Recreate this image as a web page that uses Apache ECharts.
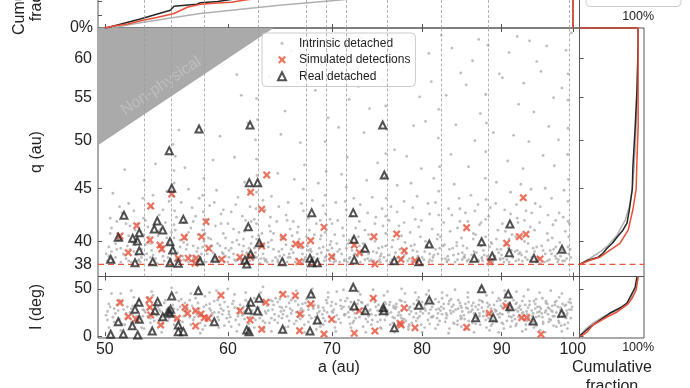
<!DOCTYPE html>
<html><head><meta charset="utf-8">
<script src="https://cdn.jsdelivr.net/npm/echarts@6/dist/echarts.min.js"></script>
<style>html,body{margin:0;padding:0;background:#fff;overflow:hidden;width:690px;height:388px}#c{position:absolute;left:0;top:-50px;width:690px;height:438px}</style>
</head><body><div id="c"></div><script>
// ---------- data (a in au, q in au, I in deg) ----------
const resonances = [52.95, 55.4, 57.8, 62.6, 67.1, 69.3, 71.5, 75.8, 82.0, 87.9, 99.3];
const aTicks = [50, 60, 70, 80, 90, 100];
const qTicks = [38, 40, 45, 50, 55, 60];
const iTicks = [0, 50];
const qCut = 38;

const realAQ = [[50.44,38.44],[51.01,40.36],[51.44,42.38],[52.11,40.27],[52.29,38.15],[52.47,40.03],[52.62,40.78],[52.62,39.18],[53.68,38.24],[53.80,41.11],[54.04,41.85],[54.48,41.02],[55.01,48.91],[55.07,39.97],[55.21,45.0],[55.29,39.24],[55.07,38.15],[55.75,38.1],[56.17,42.0],[57.57,38.3],[58.86,38.53],[57.49,51.32],[61.93,45.56],[62.70,45.56],[61.84,41.32],[62.86,39.88],[62.06,38.89],[61.54,38.38],[61.70,38.05],[65.03,38.24],[67.93,42.63],[67.76,38.53],[67.93,38.15],[68.50,38.15],[72.24,42.63],[72.32,40.18],[72.35,38.38],[73.51,39.39],[75.64,46.34],[76.77,38.32],[80.85,39.77],[79.62,38.24],[62.0,51.78],[75.46,51.78],[86.42,38.53],[87.37,39.97],[88.75,38.72],[91.02,39.01],[91.11,41.57],[94.41,38.53],[98.41,39.30]];
const simAQ = [[51.14,40.48],[51.77,39.01],[52.42,41.41],[53.52,43.26],[53.46,40.12],[54.26,39.67],[54.40,39.33],[55.21,44.43],[55.75,38.53],[56.25,40.36],[56.58,38.53],[57.23,38.53],[57.15,38.1],[57.71,40.42],[58.09,41.78],[58.32,39.39],[59.45,38.44],[63.55,46.34],[62.06,44.6],[63.08,42.95],[63.08,39.59],[61.08,38.61],[62.0,38.66],[65.13,40.36],[66.34,39.77],[66.83,39.67],[67.83,40.06],[69.18,41.27],[66.69,38.24],[69.97,38.66],[72.35,39.67],[72.89,39.01],[74.49,40.42],[74.6,38.04],[77.04,40.66],[77.91,39.18],[77.53,38.44],[79.16,38.32],[85.45,41.23],[88.45,38.24],[90.67,39.83],[92.39,40.42],[93.3,40.63],[92.93,44.07],[95.26,38.47]];
const realAI = [[50.44,1.9],[51.39,2.2],[52.5,1.2],[51.01,15.2],[52.08,11.0],[52.29,28.3],[52.6,35.7],[52.62,17.8],[53.64,5.4],[53.86,26.8],[54.07,36.4],[54.48,20.5],[54.93,25.8],[55.12,28.3],[55.07,24.1],[55.21,42.4],[55.75,11.7],[55.75,4.7],[56.17,4.7],[57.43,48.0],[58.8,15.2],[61.70,6.4],[61.91,4.7],[62.06,35.7],[61.84,27.6],[62.70,26.5],[62.83,40.0],[65.07,7.2],[67.76,5.4],[67.86,44.5],[68.50,17.0],[72.24,51.6],[72.35,31.8],[73.54,26.8],[75.53,30.0],[75.58,26.8],[76.77,8.9],[79.62,32.6],[80.85,38.2],[86.6,19.5],[87.37,50.1],[88.88,19.5],[90.88,44.5],[91.11,31.1],[94.31,16.0],[98.37,24.1]];
const simAI = [[51.14,35.3],[51.77,20.5],[52.36,18.1],[53.41,38.2],[53.46,30.4],[53.52,22.3],[54.31,11.7],[55.67,18.8],[56.3,30.4],[56.53,24.1],[57.2,26.8],[57.2,10.7],[57.66,23.4],[57.94,19.5],[58.28,18.8],[59.39,43.1],[61.08,26.8],[62.0,17.0],[63.08,7.2],[63.48,35.7],[65.10,44.2],[66.3,42.7],[66.76,23.0],[67.83,33.9],[66.72,5.7],[69.97,17.8],[69.18,2.2],[72.35,3.0],[72.89,26.8],[74.42,40.0],[74.6,5.4],[77.91,29.7],[77.42,13.5],[77.55,11.7],[79.16,8.9],[85.45,9.3],[88.36,24.1],[90.58,31.8],[92.72,19.5],[93.41,19.5],[95.40,1.9]];

const intrinsicAQ = [[50.2,38.3],[50.5,39.1],[50.8,38.6],[51.1,40.2],[51.4,38.9],[51.7,39.6],[52.0,38.2],[52.3,41.0],[50.4,40.7],[50.9,41.8],[51.3,42.6],[51.8,43.5],[52.1,39.9],[50.6,44.5],[51.5,46.9],[52.4,38.8],[50.3,39.5],[51.9,41.4],
[52.6,38.4],[52.8,39.3],[52.9,40.6],[52.95,42.1],[52.9,44.0],[53.0,45.8],[53.2,38.9],[53.5,39.8],[53.8,38.3],[54.1,40.9],[54.4,39.2],[54.7,41.7],[54.9,38.6],[53.6,43.1],[54.2,42.4],[53.3,41.3],[54.8,44.7],[53.9,47.5],
[55.1,38.5],[55.3,39.4],[55.4,40.3],[55.4,41.5],[55.45,42.8],[55.35,44.2],[55.4,45.5],[55.4,46.8],[55.5,48.3],[55.3,49.6],[55.6,38.9],[55.9,40.1],[56.2,38.4],[56.5,39.7],[56.8,41.2],[57.1,38.7],[57.4,40.6],[56.0,43.6],[56.6,44.9],[57.2,42.3],[55.8,51.2],[56.3,47.1],
[57.6,38.3],[57.8,39.5],[57.8,41.0],[57.85,42.7],[57.8,44.3],[57.9,46.0],[58.2,38.9],[58.5,40.2],[58.8,38.5],[59.1,39.8],[59.4,41.6],[59.7,38.2],[58.4,43.3],[59.0,44.8],[59.6,42.9],[58.7,47.9],[59.3,50.5],[59.8,39.4],
[60.1,38.6],[60.4,39.9],[60.7,38.3],[61.0,40.8],[61.3,39.1],[61.6,41.9],[61.9,38.8],[62.2,40.4],[60.3,42.7],[60.9,44.1],[61.5,45.6],[62.0,43.2],[60.6,48.2],[61.8,52.0],[62.3,38.4],[61.2,55.3],[60.8,57.9],
[62.5,39.0],[62.6,40.2],[62.6,41.6],[62.55,43.0],[62.6,44.6],[62.65,46.3],[62.6,48.0],[62.5,50.1],[62.7,52.4],[62.6,54.9],[63.0,38.5],[63.3,39.6],[63.6,38.2],[63.9,40.9],[64.2,39.3],[64.5,41.8],[64.8,38.7],[63.4,42.9],[64.0,44.2],[64.6,46.5],[63.8,57.6],[64.3,60.2],[64.9,50.7],
[65.1,38.4],[65.4,39.7],[65.7,38.9],[66.0,40.5],[66.3,38.2],[66.6,41.3],[66.9,39.4],[67.1,42.8],[67.1,44.9],[67.2,47.4],[65.6,43.6],[66.2,45.9],[66.8,49.8],[65.3,53.4],[66.5,56.8],[65.9,61.0],[67.3,38.6],[65.8,41.1],
[67.6,39.2],[67.9,38.4],[68.2,40.6],[68.5,38.9],[68.8,41.9],[69.1,39.5],[69.3,40.8],[69.35,42.5],[69.3,44.3],[69.4,46.7],[69.3,49.9],[69.8,38.3],[68.0,43.8],[68.6,45.5],[69.6,52.6],[68.3,55.9],[69.0,59.4],[67.8,62.1],[69.9,40.0],
[70.2,38.7],[70.5,39.8],[70.8,38.2],[71.1,41.2],[71.5,39.4],[71.5,42.9],[71.5,45.1],[71.6,48.2],[71.9,38.6],[72.2,40.3],[70.4,43.6],[71.0,46.4],[72.3,44.0],[70.7,51.5],[71.8,54.8],[72.0,58.6],[70.3,62.5],
[72.6,38.3],[72.9,39.6],[73.2,38.9],[73.5,41.0],[73.8,38.5],[74.1,40.2],[74.4,39.1],[74.7,42.2],[73.0,43.4],[73.7,45.8],[74.3,44.1],[74.9,47.6],[73.4,50.9],[74.0,53.7],[72.8,56.4],[74.6,59.8],[73.1,62.8],
[75.1,38.4],[75.4,39.5],[75.8,40.7],[75.8,42.3],[75.85,44.0],[75.7,46.1],[75.8,48.6],[75.9,51.3],[75.8,54.0],[76.2,38.8],[76.6,40.1],[77.0,38.2],[77.3,41.4],[76.4,43.2],[77.1,45.3],[76.8,49.0],[75.5,57.2],[76.9,60.9],[77.4,39.3],
[77.7,38.6],[78.0,39.9],[78.3,38.3],[78.6,40.8],[78.9,39.2],[79.2,42.0],[79.5,38.7],[79.8,40.4],[77.9,43.7],[78.7,45.5],[79.4,44.2],[78.2,48.3],[79.0,51.7],[79.7,55.1],[77.8,58.9],[78.8,62.3],[79.9,47.0],
[80.2,38.4],[80.5,39.6],[80.9,38.9],[81.2,41.1],[81.6,39.3],[81.9,40.6],[82.0,42.4],[82.0,44.7],[82.1,47.2],[81.95,50.3],[82.0,53.6],[82.4,38.5],[80.7,43.5],[81.4,46.0],[80.4,52.2],[81.1,57.0],[80.8,60.7],[82.3,63.2],
[82.7,39.7],[83.0,38.3],[83.4,40.9],[83.8,38.8],[84.2,39.9],[84.6,41.8],[84.9,38.4],[83.2,43.0],[83.9,45.4],[84.5,44.0],[83.5,48.5],[84.1,51.8],[82.9,55.3],[84.7,58.1],[83.6,61.4],[84.8,40.3],
[85.1,38.6],[85.5,39.4],[85.9,38.2],[86.3,40.7],[86.7,39.0],[87.1,41.5],[87.4,38.5],[85.3,42.6],[86.0,44.3],[86.9,43.4],[85.7,47.2],[86.5,50.0],[87.2,53.1],[85.4,56.6],[86.2,59.7],[87.0,62.6],
[87.6,39.2],[87.9,40.4],[87.9,42.0],[87.95,43.9],[87.85,46.0],[87.9,48.8],[88.0,52.0],[87.9,55.4],[88.3,38.3],[88.7,39.8],[89.1,38.7],[89.5,41.0],[89.9,39.3],[88.5,43.1],[89.3,45.6],[88.9,50.9],[89.7,58.0],[88.2,61.8],
[90.2,38.5],[90.6,39.7],[91.0,38.2],[91.4,40.6],[91.8,39.1],[92.2,41.7],[90.4,42.9],[91.2,44.6],[92.0,43.4],[90.8,47.8],[91.6,50.6],[92.3,54.2],[90.1,57.5],[91.0,60.8],[92.1,63.0],[90.5,40.9],
[92.7,38.8],[93.1,40.0],[93.5,38.4],[93.9,41.3],[94.3,39.4],[94.7,38.2],[93.3,42.8],[94.0,44.9],[94.6,43.5],[92.9,47.0],[93.7,49.9],[94.4,53.3],[93.0,56.8],[94.8,59.6],[93.8,62.4],[92.6,45.4],
[95.1,38.5],[95.5,39.6],[95.9,38.2],[96.3,40.7],[96.7,39.2],[97.1,41.5],[97.4,38.7],[95.3,43.2],[96.0,45.0],[96.9,44.0],[95.7,48.4],[96.5,51.6],[97.2,55.0],[95.4,58.3],[96.2,61.7],[97.3,47.3],
[97.7,38.9],[98.1,39.9],[98.5,38.3],[98.9,40.9],[99.3,39.5],[99.3,41.8],[99.3,43.7],[99.35,45.9],[99.25,48.5],[99.3,51.4],[99.3,54.7],[99.3,58.0],[99.7,38.6],[98.0,42.6],[98.7,44.8],[97.9,50.1],[98.4,56.2],[99.0,61.1],[99.8,63.5],
[50.1,38.9],[50.7,38.2],[51.2,39.4],[51.6,38.5],[52.2,39.1],[52.7,38.2],[53.1,39.7],[53.7,38.8],[54.0,38.1],[54.5,39.5],[55.0,38.2],[55.7,39.0],[56.1,38.7],[56.4,39.3],[56.9,38.3],[57.3,39.1],[57.7,38.9],[58.1,38.2],[58.6,39.6],[59.0,38.4],[59.5,39.0],[60.0,38.2],[60.5,38.9],[61.1,38.5],[61.4,39.6],[62.0,38.3],[62.4,39.4],[62.9,38.1],[63.2,38.9],[63.7,39.5],[64.1,38.3],[64.7,39.1],[65.2,38.8],[65.9,39.3],[66.4,38.5],[67.0,38.1],[67.5,39.6],[68.1,38.6],[68.7,39.4],[69.2,38.3],[69.6,39.2],[70.1,38.5],[70.6,39.1],[71.3,38.4],[71.7,39.8],[72.4,38.9],[73.0,38.2],[73.6,39.5],[74.2,38.4],[74.8,39.0],[75.3,38.9],[75.9,38.3],[76.5,39.5],[77.2,38.6],[77.9,39.2],[78.5,38.5],[79.1,39.7],[79.7,38.3],[80.3,39.1],[80.8,38.2],[81.4,38.8],[82.1,39.4],[82.8,38.5],[83.3,39.3],[84.0,38.2],[84.4,38.9],[85.0,39.6],[85.7,38.4],[86.4,39.1],[87.0,38.3],[87.7,38.8],[88.4,39.5],[89.0,38.4],[89.6,39.0],[90.3,38.2],[90.9,39.4],[91.5,38.6],[92.1,39.2],[92.8,38.3],[93.4,39.1],[94.1,38.6],[94.8,39.5],[95.3,38.1],[96.0,38.9],[96.6,38.4],[97.2,39.3],[97.8,38.2],[98.4,39.2],[99.1,38.5],[99.6,39.3],
[50.5,41.2],[51.0,40.1],[51.8,40.5],[52.5,41.6],[53.4,40.4],[54.3,41.1],[55.2,40.8],[56.4,40.5],[57.0,41.8],[58.0,40.7],[58.9,41.4],[59.8,40.3],[60.5,41.1],[61.4,40.2],[62.1,41.8],[63.1,40.7],[63.8,41.4],[64.9,40.4],[65.5,41.9],[66.7,40.2],[67.7,41.0],[68.9,40.5],[70.0,41.6],[71.2,40.5],[72.5,41.2],[73.9,40.6],[75.5,41.4],[77.6,40.5],[79.6,41.3],[81.8,40.2],[84.3,41.2],[86.6,40.6],[89.3,40.2],[91.9,40.4],[94.5,41.0],[97.0,40.3],
[50.3,38.7],[50.8,39.8],[51.2,38.2],[51.9,39.3],[52.4,40.2],[52.8,38.6],[53.3,39.9],[53.9,38.5],[54.2,39.6],[54.8,40.3],[55.2,39.1],[55.5,38.3],[55.9,39.5],[56.3,40.2],[56.7,38.8],[57.0,39.6],[57.5,38.4],[57.9,40.0],[58.3,39.3],[58.9,38.6],[59.3,39.6],[59.6,38.9],[60.3,39.4],[60.8,40.1],[61.2,38.3],[61.7,39.0],[62.1,39.8],[62.6,38.6],[63.0,39.8],[63.5,38.4],[64.0,40.1],[64.4,38.6],[65.0,39.3],[65.5,38.2],[66.1,39.0],[66.6,39.8],[67.2,38.4],[67.8,39.3],[68.3,38.2],[68.9,39.0],[69.4,38.7],[70.0,39.4],[70.4,38.3],[71.0,38.9],[71.6,38.2],[72.1,39.2],[72.7,38.7],[73.3,39.8],[73.9,38.9],[74.5,38.3],[75.0,39.4],[75.6,38.6],[76.3,38.2],[76.9,39.0],[77.5,38.4],[78.1,38.9],[78.8,38.3],[79.4,39.1],[80.0,38.6],[80.6,39.5],[81.2,38.3],[81.9,38.9],[82.5,39.6],[83.1,38.7],[83.7,39.4],[84.3,38.4],[84.9,39.0],[85.5,38.3],[86.1,38.8],[86.8,38.4],[87.3,39.6],[88.1,38.7],[88.8,38.2],[89.4,39.3],[90.0,38.8],[90.7,38.4],[91.3,39.2],[91.9,38.3],[92.5,39.0],[93.2,38.6],[93.9,38.3],[94.5,39.1],[95.0,38.5],[95.7,39.2],[96.3,38.3],[96.9,38.9],[97.5,39.5],[98.2,38.7],[98.8,38.3],[99.4,38.9],
[50.6,38.4],[51.5,38.8],[52.5,38.3],[53.5,38.6],[54.6,38.3],[55.6,38.5],[56.6,38.2],[57.6,38.6],[58.7,38.3],[59.8,38.7],[60.9,38.4],[62.2,38.6],[63.4,38.3],[64.6,38.4],[65.8,38.6],[67.1,38.3],[68.6,38.5],[70.2,38.2],[71.8,38.5],[73.5,38.4],[75.2,38.2],[77.0,38.5],[78.9,38.6],[80.9,38.4],[83.0,38.2],[85.2,38.6],[87.5,38.3],[89.8,38.5],[92.3,38.4],[94.9,38.3],[97.6,38.5],
[50.4,42.1],[51.1,43.2],[51.6,41.6],[52.2,42.8],[53.1,41.9],[53.7,44.3],[54.5,42.9],[55.0,43.7],[55.6,42.2],[56.2,41.7],[56.9,43.1],[57.5,44.0],[58.1,42.0],[58.8,43.6],[59.4,42.5],[60.0,41.6],[60.7,43.4],[61.3,42.3],[61.9,44.6],[62.4,42.0],[63.2,43.8],[63.9,42.2],[64.7,43.2],[65.4,42.4],[66.1,41.8],[66.9,43.5],[67.6,42.1],[68.4,41.6],[69.1,43.3],[69.8,42.0],[70.6,41.9],[71.4,43.7],[72.1,42.3],[72.9,41.8],[73.8,42.6],[74.6,41.6],[75.4,43.0],[76.2,41.9],[77.1,42.7],[77.9,41.7],[78.9,43.1],[79.9,41.9],[80.9,42.5],[81.6,43.6],[82.6,41.7],[83.6,42.4],[84.6,43.0],[85.6,41.8],[86.5,42.8],[87.3,41.7],[88.3,42.3],[89.2,43.5],[90.1,41.6],[91.2,42.5],[92.1,42.1],[93.1,41.9],[94.1,42.6],[95.2,41.7],[96.4,42.4],[97.5,41.9],[98.6,42.2],[99.5,41.6],
[50.4,38.5],[50.9,39.3],[51.3,40.1],[51.8,38.3],[52.3,39.7],[52.7,40.9],[53.2,38.4],[53.6,39.2],[54.1,40.5],[54.5,38.7],[55.0,39.8],[55.5,41.0],[55.8,38.4],[56.2,39.9],[56.6,40.8],[57.0,38.5],[57.4,39.4],[57.9,38.2],[58.3,40.3],[58.7,39.0],[59.2,38.3],[59.6,40.7],[60.1,39.2],[60.6,38.4],[61.0,39.7],[61.5,40.9],[61.9,39.4],[62.4,38.7],[62.8,40.5],[63.3,38.5],[63.7,39.9],[64.2,40.7],[64.6,38.2],[65.1,40.2],[65.6,38.6],[66.0,39.6],[66.5,40.8],[67.0,38.9],[67.4,40.4],[67.9,39.1],[68.4,38.4],[68.8,40.2],[69.3,38.6],[69.8,39.7],[70.3,40.6],[70.8,39.3],[71.3,38.3],[71.8,40.1],[72.3,38.8],[72.8,40.4],[73.4,39.1],[74.0,38.3],[74.6,40.0],[75.2,38.7],[75.8,39.6],[76.5,38.4],[77.2,40.2],[77.9,38.8],[78.7,39.6],[79.5,38.3],[80.4,40.0],[81.3,38.6],[82.2,40.4],[83.2,38.4],[84.2,39.6],[85.2,38.8],[86.3,40.2],[87.4,38.6],[88.6,39.9],[89.8,38.4],[91.0,40.2],[92.3,38.9],[93.6,39.8],[95.0,38.6],[96.4,40.1],[97.9,38.4],[99.4,40.4]];

const intrinsicAI = [[50.1,22],[50.4,31],[50.7,15],[51.0,27],[51.3,36],[51.6,19],[51.9,25],[52.2,41],[50.3,9],[50.9,33],[51.5,12],[52.0,29],[52.4,21],[51.2,45],
[52.6,18],[52.9,28],[53.2,35],[53.5,14],[53.8,24],[54.1,31],[54.4,20],[54.7,38],[53.0,8],[53.7,43],[54.3,26],[54.9,16],[53.4,30],[54.0,22],
[55.1,25],[55.3,33],[55.5,18],[55.7,28],[56.0,39],[56.2,21],[56.5,30],[56.8,12],[57.1,26],[57.4,35],[55.6,46],[56.4,24],[57.0,17],[55.9,5],
[57.6,23],[57.9,31],[58.2,16],[58.5,27],[58.8,37],[59.1,20],[59.4,29],[59.7,11],[58.0,42],[58.6,24],[59.3,33],[59.9,19],[57.8,7],[59.0,48],
[60.1,26],[60.4,34],[60.7,17],[61.0,29],[61.3,22],[61.6,38],[61.9,13],[62.2,27],[60.6,44],[61.4,31],[62.0,20],[60.3,10],[61.8,36],[62.4,24],
[62.6,30],[62.9,19],[63.2,35],[63.5,24],[63.8,14],[64.1,28],[64.4,40],[64.7,21],[63.0,46],[63.6,32],[64.3,17],[64.9,26],[63.3,8],[64.6,36],
[65.1,23],[65.4,31],[65.7,16],[66.0,27],[66.3,37],[66.6,20],[66.9,29],[67.2,12],[65.6,42],[66.4,25],[67.0,34],[65.3,9],[66.8,18],[67.4,39],
[67.6,28],[67.9,19],[68.2,33],[68.5,24],[68.8,14],[69.1,30],[69.4,38],[69.7,21],[68.0,45],[68.7,26],[69.3,16],[69.9,32],[68.4,7],[69.6,41],
[70.1,25],[70.4,34],[70.7,18],[71.0,29],[71.3,22],[71.6,40],[71.9,13],[72.2,27],[70.5,47],[71.2,31],[71.8,20],[70.3,9],[72.0,36],[72.4,24],
[72.6,30],[72.9,20],[73.2,35],[73.5,25],[73.8,15],[74.1,28],[74.4,39],[74.7,22],[73.0,44],[73.6,32],[74.3,17],[74.9,27],[73.3,10],[74.6,36],
[75.1,23],[75.4,31],[75.7,17],[76.0,27],[76.3,36],[76.6,20],[76.9,29],[77.2,13],[75.6,43],[76.4,25],[77.0,34],[75.3,8],[76.8,19],[77.4,38],
[77.6,27],[77.9,18],[78.2,32],[78.5,23],[78.8,14],[79.1,29],[79.4,38],[79.7,21],[78.0,45],[78.7,26],[79.3,16],[79.9,33],[78.4,7],[79.6,41],
[80.1,24],[80.4,33],[80.7,17],[81.0,28],[81.3,21],[81.6,39],[81.9,12],[82.2,27],[80.5,44],[81.2,31],[81.8,19],[80.3,9],[82.0,36],[82.4,23],
[82.6,29],[82.9,19],[83.2,34],[83.5,24],[83.8,14],[84.1,28],[84.4,38],[84.7,21],[83.0,43],[83.6,31],[84.3,16],[84.9,26],[83.3,8],[84.6,35],
[85.1,22],[85.4,30],[85.7,16],[86.0,26],[86.3,35],[86.6,19],[86.9,28],[87.2,12],[85.6,41],[86.4,24],[87.0,33],[85.3,7],[86.8,18],[87.4,37],
[87.6,26],[87.9,17],[88.2,31],[88.5,22],[88.8,13],[89.1,28],[89.4,37],[89.7,20],[88.0,43],[88.7,25],[89.3,15],[89.9,32],[88.4,6],[89.6,40],
[90.1,23],[90.4,32],[90.7,16],[91.0,27],[91.3,20],[91.6,38],[91.9,11],[92.2,26],[90.5,44],[91.2,30],[91.8,18],[90.3,8],[92.0,35],[92.4,22],
[92.6,28],[92.9,18],[93.2,33],[93.5,23],[93.8,13],[94.1,27],[94.4,37],[94.7,20],[93.0,42],[93.6,30],[94.3,15],[94.9,25],[93.3,7],[94.6,34],
[95.1,21],[95.4,29],[95.7,15],[96.0,25],[96.3,34],[96.6,18],[96.9,27],[97.2,11],[95.6,40],[96.4,23],[97.0,32],[95.3,6],[96.8,17],[97.4,36],
[97.6,25],[97.9,16],[98.2,30],[98.5,21],[98.8,12],[99.1,27],[99.4,36],[99.7,19],[98.0,41],[98.7,24],[99.3,14],[99.9,31],[98.4,5],[99.6,39],
[50.6,20],[51.4,28],[52.3,17],[53.1,25],[53.9,33],[54.6,23],[55.4,29],[56.1,15],[56.9,32],[57.7,21],[58.4,29],[59.2,25],[60.0,31],[60.9,21],[61.7,27],[62.5,17],[63.4,26],[64.2,33],[65.0,19],[65.8,29],[66.7,24],[67.5,32],[68.3,20],[69.2,27],[70.0,18],[70.9,32],[71.7,25],[72.5,19],[73.4,29],[74.2,23],[75.0,33],[75.9,22],[76.7,30],[77.6,19],[78.4,28],[79.3,24],[80.2,30],[81.1,20],[82.0,29],[82.9,24],[83.8,33],[84.7,18],[85.6,29],[86.5,22],[87.4,30],[88.3,19],[89.2,26],[90.1,30],[91.0,21],[91.9,28],[92.8,24],[93.7,19],[94.6,29],[95.5,24],[96.4,30],[97.3,21],[98.2,27],[99.1,22],[99.8,28],
[50.2,26],[51.1,18],[52.1,32],[53.3,21],[54.2,16],[55.2,22],[56.3,35],[57.3,23],[58.3,19],[59.5,23],[60.2,20],[61.1,33],[62.1,23],[63.1,22],[64.0,19],[64.8,31],[65.9,24],[67.1,22],[68.1,29],[69.0,23],[70.2,28],[71.4,23],[72.7,34],[73.9,21],[75.2,27],[76.2,33],[77.3,25],[78.6,31],[79.8,26],[80.8,24],[82.3,31],[83.4,27],[84.8,30],[86.1,32],[87.1,24],[88.6,29],[89.8,24],[90.9,25],[92.3,30],[93.4,26],[94.9,31],[96.1,27],[97.8,31],[99.0,33],
[50.3,34],[50.8,24],[51.3,13],[51.7,31],[52.1,23],[52.6,38],[53.0,27],[53.5,19],[54.0,35],[54.5,13],[54.8,28],[55.3,21],[55.8,37],[56.2,27],[56.7,20],[57.2,40],[57.6,14],[58.1,33],[58.6,22],[59.1,38],[59.6,27],[60.1,15],[60.5,37],[61.0,24],[61.5,18],[62.0,32],[62.4,40],[62.9,25],[63.4,14],[63.9,38],[64.3,23],[64.8,39],[65.2,27],[65.7,35],[66.2,13],[66.6,33],[67.1,27],[67.6,15],[68.1,37],[68.6,30],[69.1,12],[69.5,25],[70.0,36],[70.5,22],[70.9,14],[71.4,37],[71.9,29],[72.3,16],[72.8,38],[73.3,24],[73.8,33],[74.2,12],[74.7,31],[75.2,17],[75.7,36],[76.1,24],[76.6,14],[77.0,31],[77.5,22],[78.0,36],[78.5,12],[79.0,34],[79.5,19],[80.0,36],[80.4,27],[80.9,13],[81.4,34],[81.9,24],[82.4,40],[82.8,15],[83.3,37],[83.8,26],[84.3,12],[84.7,32],[85.2,18],[85.7,36],[86.2,28],[86.6,13],[87.1,38],[87.6,21],[88.1,35],[88.6,11],[89.0,33],[89.5,23],[90.0,14],[90.5,37],[90.9,29],[91.4,16],[91.9,34],[92.3,20],[92.8,37],[93.3,12],[93.8,33],[94.2,21],[94.7,39],[95.2,26],[95.7,13],[96.1,35],[96.6,29],[97.1,21],[97.6,37],[98.0,14],[98.5,34],[99.0,19],[99.5,28],
[50.5,45],[51.2,6],[52.0,48],[52.8,9],[53.6,47],[54.4,4],[55.2,51],[56.0,8],[56.8,45],[57.6,3],[58.4,46],[59.2,9],[60.0,50],[60.8,5],[61.6,46],[62.4,9],[63.2,52],[64.0,5],[64.8,46],[65.6,10],[66.4,48],[67.2,4],[68.0,50],[68.8,10],[69.6,46],[70.4,5],[71.2,49],[72.0,9],[72.8,47],[73.6,4],[74.4,49],[75.2,9],[76.0,47],[76.8,4],[77.6,50],[78.4,10],[79.2,46],[80.0,4],[80.8,48],[81.6,8],[82.4,46],[83.2,3],[84.0,49],[84.8,10],[85.6,46],[86.4,4],[87.2,51],[88.0,9],[88.8,46],[89.6,4],[90.4,48],[91.2,10],[92.0,47],[92.8,5],[93.6,49],[94.4,9],[95.2,46],[96.0,4],[96.8,48],[97.6,10],[98.4,45],[99.2,8],
[50.2,17],[50.7,29],[51.1,38],[51.6,24],[52.0,14],[52.5,33],[52.9,21],[53.3,41],[53.8,16],[54.2,28],[54.6,35],[55.0,19],[55.4,12],[55.9,31],[56.3,26],[56.7,38],[57.1,20],[57.5,29],[58.0,11],[58.4,34],[58.8,25],[59.2,17],[59.7,36],[60.1,23],[60.6,30],[61.0,12],[61.5,26],[61.9,34],[62.3,19],[62.8,30],[63.2,16],[63.7,27],[64.1,37],[64.6,14],[65.0,30],[65.5,21],[65.9,38],[66.4,16],[66.8,27],[67.3,35],[67.7,22],[68.2,13],[68.6,32],[69.1,19],[69.5,35],[70.0,26],[70.4,15],[70.9,38],[71.3,23],[71.8,31],[72.2,14],[72.7,27],[73.1,36],[73.6,18],[74.0,27],[74.5,40],[74.9,15],[75.4,26],[75.8,34],[76.3,12],[76.7,32],[77.2,22],[77.6,37],[78.1,16],[78.5,30],[79.0,20],[79.4,33],[79.9,12],[80.3,29],[80.8,37],[81.2,20],[81.7,28],[82.1,16],[82.6,34],[83.0,22],[83.5,39],[83.9,13],[84.4,29],[84.8,19],[85.3,34],[85.7,25],[86.2,14],[86.6,31],[87.1,21],[87.5,36],[88.0,24],[88.4,33],[88.9,17],[89.3,27],[89.8,38],[90.2,13],[90.7,28],[91.1,35],[91.6,22],[92.0,13],[92.5,32],[92.9,25],[93.4,16],[93.8,37],[94.3,24],[94.7,11],[95.2,31],[95.6,20],[96.1,37],[96.5,15],[97.0,26],[97.4,33],[97.9,20],[98.3,11],[98.8,32],[99.2,24],[99.7,35]];

// cumulative fractions
const cumAGray  = [[50,0],[51,0.02],[52.7,0.08],[55.4,0.16],[57.6,0.22],[60.3,0.27],[65,0.35],[70.6,0.42],[80,0.55],[90,0.72],[100,1],[100,0]];
const cumABlack = [[50,0],[50.45,0.02],[52.7,0.136],[55.1,0.27],[55.4,0.33],[57.3,0.36],[57.6,0.383],[59.1,0.40],[61,0.45],[65,0.55],[75,0.75],[90,0.92],[100,0.98],[100,0]];
const cumARed   = [[50,0],[50.67,0.03],[51.73,0.06],[52.73,0.11],[54.0,0.16],[55.4,0.22],[56.5,0.315],[57.6,0.36],[59.1,0.38],[60.3,0.39],[61.4,0.42],[70,0.6],[85,0.85],[100,1],[100,0]];
const cumQGray  = [[0,38],[0.17,38.5],[0.33,39.0],[0.49,39.65],[0.64,40.55],[0.78,41.94],[0.85,43.2],[0.90,44.9],[0.93,47.1],[0.95,49.3],[0.966,51.6],[0.99,57],[1,64.2],[0,64.2]];
const cumQBlack = [[0,38],[0.145,38.36],[0.32,38.62],[0.40,38.96],[0.47,39.39],[0.56,39.83],[0.64,40.37],[0.74,41.0],[0.81,41.65],[0.85,42.9],[0.90,44.9],[0.91,47.1],[0.93,49.3],[0.95,51.6],[0.98,56],[1,62],[1,64.2],[0,64.2]];
const cumQRed   = [[0,38],[0.18,38.36],[0.35,38.62],[0.52,39.22],[0.69,39.83],[0.83,41.0],[0.91,42.9],[0.966,44.9],[0.98,47.9],[1,51.6],[1,64.2],[0,64.2]];
const cumIGray  = [[0,0],[0.02,1.2],[0.12,8.2],[0.23,13.8],[0.40,20.2],[0.57,25.5],[0.74,30.8],[0.86,38.2],[0.93,45.6],[0.98,56],[1,62.5]];
const cumIRed   = [[0,0],[0.04,0.5],[0.13,4.3],[0.23,11.7],[0.47,20.2],[0.64,25.5],[0.81,32.9],[0.90,40.3],[0.966,48.7],[1,62.5]];
const cumIBlack = [[0,0],[0.06,3.3],[0.18,9.6],[0.35,17],[0.52,24.4],[0.69,29.7],[0.81,35],[0.90,45.6],[0.95,51.9],[0.98,62.5]];

// ---------- helpers ----------
const L = Math.log;
const A_MIN = 49.5, A_MAX = 101, Q_MIN = 37, Q_MAX = 64.2, I_MIN = -2, I_MAX = 63, F_MAX = 1.1;
const nonPhysical = [[A_MIN, A_MIN], [Q_MAX, Q_MAX], [A_MIN, Q_MAX]];
const FONT = 'Liberation Sans';
const INK = '#222', FRAME = '#555', GRAYC = '#adadad', REDC = '#e8503a', BLACKC = '#262626';
const crossPath = 'path://M0,2L2,0L5,3L8,0L10,2L7,5L10,8L8,10L5,7L2,10L0,8L3,5Z';
const dotIcon = 'path://M0,0L0.01,0L0,0.01Z M8,8L7.99,8L8,7.99Z M2.4,4A1.6,1.6 0 1,0 5.6,4A1.6,1.6 0 1,0 2.4,4Z';
const expFmt = v => String(Math.round(Math.exp(v)));
const logAQ = arr => arr.map(p => [L(p[0]), L(p[1])]);
const logA = arr => arr.map(p => [L(p[0]), p[1]]);
const logQ = arr => arr.map(p => [p[0], L(p[1])]);

const tick = (vals) => ({show: true, inside: true, length: 4, customValues: vals, lineStyle: {color: FRAME, width: 1}});
const noLabel = {show: false};
const aAxis = (grid, pos, labels) => ({
  type: 'value', gridIndex: grid, position: pos, min: L(A_MIN), max: L(A_MAX),
  axisLine: {show: false}, splitLine: {show: false},
  axisTick: tick(aTicks.map(L)),
  axisLabel: labels ? {show: true, customValues: aTicks.map(L), formatter: expFmt, fontSize: 16, color: INK, fontFamily: FONT, margin: 4} : noLabel
});
const fAxis = (grid, pos) => ({
  type: 'value', gridIndex: grid, position: pos, min: 0, max: F_MAX,
  axisLine: {show: false}, splitLine: {show: false}, axisTick: {show: false},
  axisLabel: {show: true, customValues: [1], formatter: () => '100%', fontSize: 12.5, color: INK, fontFamily: FONT, margin: pos === 'top' ? 5 : 3}
});
const qAxis = (grid, labels) => ({
  type: 'value', gridIndex: grid, min: L(Q_MIN), max: L(Q_MAX),
  axisLine: {show: false}, splitLine: {show: false},
  axisTick: tick(qTicks.map(L)),
  axisLabel: labels ? {show: true, customValues: qTicks.map(L), formatter: expFmt, fontSize: 16, color: INK, fontFamily: FONT, margin: 6} : noLabel
});
const iAxis = (grid, labels) => ({
  type: 'value', gridIndex: grid, min: I_MIN, max: I_MAX,
  axisLine: {show: false}, splitLine: {show: false},
  axisTick: tick(iTicks),
  axisLabel: labels ? {show: true, customValues: iTicks, fontSize: 16, color: INK, fontFamily: FONT, margin: 6} : noLabel
});

const resMark = () => ({silent: true, symbol: ['none', 'none'], label: {show: false}, animation: false,
  lineStyle: {color: '#9d9d9d', width: 0.8, type: [3, 2]}, data: resonances.map(r => ({xAxis: L(r)}))});

const lineS = (name, xi, yi, data, color, z, extra) => Object.assign({
  name, type: 'line', xAxisIndex: xi, yAxisIndex: yi, data, showSymbol: false, symbol: 'none',
  lineStyle: {color, width: 1.5}, itemStyle: {color}, z, silent: true, animation: false
}, extra || {});

const chart = echarts.init(document.getElementById('c'), null, {renderer: 'canvas'});
const gridBase = {show: true, borderColor: FRAME, borderWidth: 1, backgroundColor: 'transparent', containLabel: false};
const triStyle = {color: 'rgba(255,255,255,0)', borderColor: BLACKC, borderWidth: 2};

chart.setOption({
  animation: false,
  textStyle: {fontFamily: FONT},
  grid: [
    Object.assign({left: 98, top: 12, width: 481.5, height: 66}, gridBase),
    Object.assign({left: 98, top: 78, width: 481.5, height: 248.5}, gridBase),
    Object.assign({left: 98, top: 326.5, width: 481.5, height: 61.5}, gridBase),
    Object.assign({left: 579.5, top: 78, width: 64.5, height: 248.5}, gridBase),
    Object.assign({left: 579.5, top: 326.5, width: 64.5, height: 61.5}, gridBase)
  ],
  xAxis: [
    aAxis(0, 'bottom', false),
    aAxis(1, 'bottom', false),
    aAxis(1, 'top', false),
    aAxis(2, 'bottom', true),
    aAxis(2, 'top', false),
    fAxis(3, 'top'),
    fAxis(4, 'bottom')
  ],
  yAxis: [
    {type: 'value', gridIndex: 0, min: 0, max: 1, axisLine: {show: false}, splitLine: {show: false},
     axisTick: tick([0, 0.2, 0.4, 0.6, 0.8, 1]),
     axisLabel: {show: true, customValues: [0, 1], formatter: v => Math.round(v * 100) + '%', fontSize: 16, color: INK, fontFamily: FONT, margin: 5}},
    qAxis(1, true),
    iAxis(2, true),
    qAxis(3, false),
    iAxis(4, false)
  ],
  legend: {
    left: 262, top: 83, orient: 'vertical', selectedMode: false,
    padding: [2, 5, 2, 15], itemGap: 0, itemWidth: 8, itemHeight: 8,
    backgroundColor: 'rgba(255,255,255,0.85)', borderColor: '#cccccc', borderWidth: 1, borderRadius: 4,
    textStyle: {fontSize: 12, lineHeight: 16.5, color: INK, fontFamily: FONT, padding: [0, 0, 0, 8]},
    data: [{name: 'Intrinsic detached', icon: dotIcon}, {name: 'Simulated detections'}, {name: 'Real detached'}]
  },
  graphic: [
    {type: 'text', x: 161, y: 136, rotation: 0.59, z: 5, silent: true,
     style: {text: 'Non-physical', fontSize: 16, fontFamily: FONT, fill: '#bebebe', align: 'center', verticalAlign: 'middle'}},
    {type: 'text', x: 37, y: 202, rotation: Math.PI / 2, silent: true,
     style: {text: 'q (au)', fontSize: 16, fontFamily: FONT, fill: INK, align: 'center', verticalAlign: 'middle'}},
    {type: 'text', x: 37, y: 357, rotation: Math.PI / 2, silent: true,
     style: {text: 'I (deg)', fontSize: 16, fontFamily: FONT, fill: INK, align: 'center', verticalAlign: 'middle'}},
    {type: 'text', x: 339, y: 418, silent: true,
     style: {text: 'a (au)', fontSize: 16, fontFamily: FONT, fill: INK, align: 'center', verticalAlign: 'middle'}},
    {type: 'text', x: 612, y: 408, silent: true,
     style: {text: 'Cumulative\nfraction', fontSize: 16, lineHeight: 19, fontFamily: FONT, fill: INK, align: 'center', verticalAlign: 'top'}},
    {type: 'text', x: 28.5, y: 45, rotation: Math.PI / 2, silent: true,
     style: {text: 'Cumulative\nfraction', fontSize: 16, lineHeight: 17, fontFamily: FONT, fill: INK, align: 'center', verticalAlign: 'middle'}},
    {type: 'rect', silent: true, shape: {x: 586, y: 10, width: 95, height: 46.5, r: 4},
     style: {fill: '#fff', stroke: '#cccccc', lineWidth: 1}}
  ],
  series: [
    {
      type: 'custom', xAxisIndex: 1, yAxisIndex: 1, z: 1, silent: true, clip: true,
      data: nonPhysical.map(p => [L(p[0]), L(p[1])]),
      renderItem: (params, api) => {
        if (params.dataIndex !== 0) return null;
        const pts = nonPhysical.map(p => api.coord([L(p[0]), L(p[1])]));
        return {type: 'polygon', shape: {points: pts}, style: {fill: '#aaaaaa'}};
      }
    },
    {
      name: 'Intrinsic detached', type: 'scatter', xAxisIndex: 1, yAxisIndex: 1, z: 2, silent: true,
      symbolSize: 2.8, itemStyle: {color: GRAYC}, data: logAQ(intrinsicAQ), markLine: resMark()
    },
    {
      name: 'Intrinsic detached', type: 'scatter', xAxisIndex: 3, yAxisIndex: 2, z: 2, silent: true,
      symbolSize: 2.8, itemStyle: {color: GRAYC}, data: logA(intrinsicAI)
    },
    lineS('cut main', 1, 1, [[L(A_MIN), L(qCut)], [L(A_MAX), L(qCut)]], REDC, 3, {lineStyle: {color: REDC, width: 1.2, type: [6, 4]}}),
    lineS('cut right', 5, 3, [[0, L(qCut)], [F_MAX, L(qCut)]], REDC, 3, {lineStyle: {color: REDC, width: 1.2, type: [6, 4]}}),
    {
      name: 'Simulated detections', type: 'scatter', xAxisIndex: 1, yAxisIndex: 1, z: 4, silent: true,
      symbol: crossPath, symbolSize: 8, itemStyle: {color: REDC}, data: logAQ(simAQ)
    },
    {
      name: 'Simulated detections', type: 'scatter', xAxisIndex: 3, yAxisIndex: 2, z: 4, silent: true,
      symbol: crossPath, symbolSize: 8, itemStyle: {color: REDC}, data: logA(simAI)
    },
    {
      name: 'Real detached', type: 'scatter', xAxisIndex: 1, yAxisIndex: 1, z: 5, silent: true,
      symbol: 'triangle', symbolSize: 7, itemStyle: triStyle, data: logAQ(realAQ)
    },
    {
      name: 'Real detached', type: 'scatter', xAxisIndex: 3, yAxisIndex: 2, z: 5, silent: true,
      symbol: 'triangle', symbolSize: 7, itemStyle: triStyle, data: logA(realAI)
    },
    lineS('cumA gray', 0, 0, logA(cumAGray), '#b0b0b0', 2, {markLine: resMark()}),
    lineS('cumA black', 0, 0, logA(cumABlack), BLACKC, 3),
    lineS('cumA red', 0, 0, logA(cumARed), REDC, 4),
    lineS('cumQ gray', 5, 3, logQ(cumQGray), '#b0b0b0', 2),
    lineS('cumQ black', 5, 3, logQ(cumQBlack), BLACKC, 3),
    lineS('cumQ red', 5, 3, logQ(cumQRed), REDC, 4),
    lineS('cumI gray', 6, 4, cumIGray, '#b0b0b0', 2),
    lineS('cumI black', 6, 4, cumIBlack, BLACKC, 3),
    lineS('cumI red', 6, 4, cumIRed, REDC, 4)
  ]
});
</script></body></html>
